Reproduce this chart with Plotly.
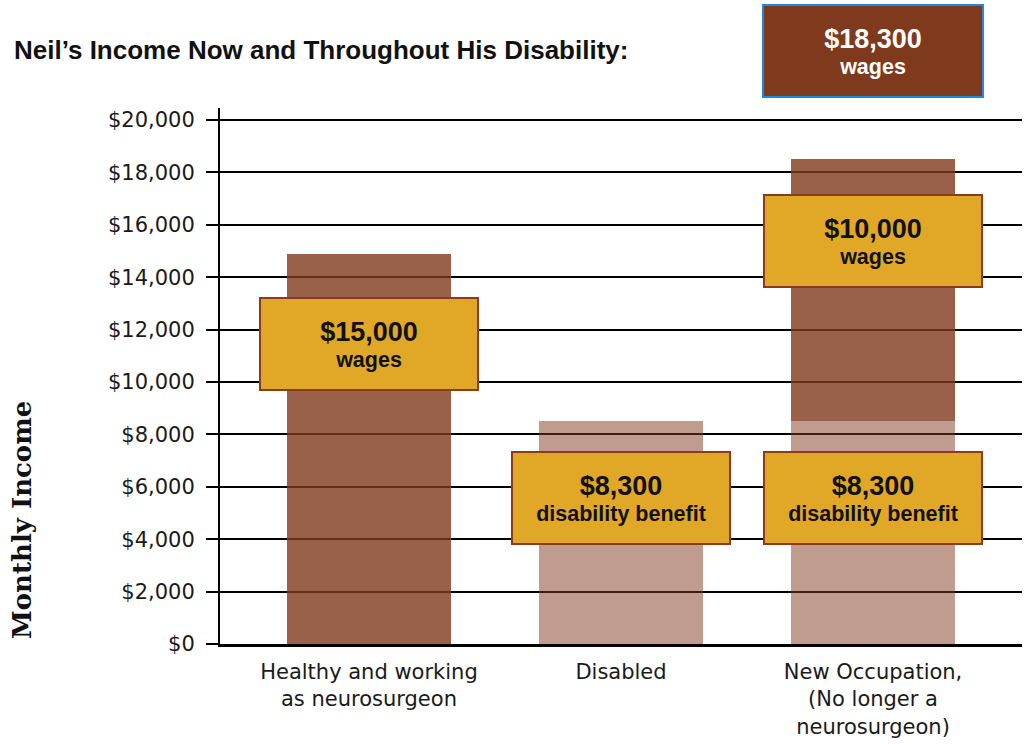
import plotly.graph_objects as go

# ---- data ----
categories = ["Healthy and working<br>as neurosurgeon", "Disabled",
              "New Occupation,<br>(No longer a<br>neurosurgeon)"]
disability_benefit = [None, 8500, 8500]   # drawn bar heights
wages = [14900, None, 10000]              # drawn bar heights (stacked on benefit)

box_amounts = [15000, 8300, 8300, 10000]
box_captions = ["wages", "disability benefit", "disability benefit", "wages"]
box_category = [0, 1, 2, 2]
box_y = [11450, 5590, 5590, 15395]

top_amount = 18300
top_caption = "wages"

y_ticks = [0, 2000, 4000, 6000, 8000, 10000, 12000, 14000, 16000, 18000, 20000]
y_tick_labels = ["$" + f"{v:,}" for v in y_ticks]

title_text = "Neil’s Income Now and Throughout His Disability:"
y_title = "Monthly Income"

# ---- styles ----
BROWN = (127, 57, 28)
dark_bar = "rgba(%d,%d,%d,0.8)" % BROWN
light_bar = "rgba(%d,%d,%d,0.5)" % BROWN
GOLD = "#E0A826"
GOLD_BORDER = "#8B3A1A"
AX_FONT = "DejaVu Sans"
BOX_FONT = "Liberation Sans, Arial, sans-serif"

fig = go.Figure()
fig.add_trace(go.Bar(x=categories, y=disability_benefit, marker=dict(color=light_bar, line=dict(width=0)),
                     width=0.651, name="Disability benefit"))
fig.add_trace(go.Bar(x=categories, y=wages, marker=dict(color=dark_bar, line=dict(width=0)),
                     width=0.651, name="Wages"))

def box_text(amount, caption):
    return ("<span style='font-size:27px'><b>$%s</b></span><br>"
            "<span style='font-size:21.5px'><b>%s</b></span>" % (f"{amount:,}", caption))

annotations = []
for amt, cap, ci, yv in zip(box_amounts, box_captions, box_category, box_y):
    annotations.append(dict(
        x=categories[ci], y=yv, xref="x", yref="y", text=box_text(amt, cap),
        showarrow=False, width=216, height=90, bgcolor=GOLD, bordercolor=GOLD_BORDER,
        borderwidth=2, borderpad=0, align="center", valign="middle",
        xanchor="center", yanchor="middle",
        font=dict(family=BOX_FONT, size=20, color="#111111")))

annotations.append(dict(
    x=categories[2], y=1.1063, xref="x", yref="paper", text=box_text(top_amount, top_caption),
    showarrow=False, width=218, height=90, bgcolor="#7F391C", bordercolor="#1E88E5",
    borderwidth=2, borderpad=0, align="center", valign="middle",
    xanchor="center", yanchor="middle",
    font=dict(family=BOX_FONT, size=20, color="white")))

annotations.append(dict(
    x=-0.2469, y=0.2313, xref="paper", yref="paper", text="<b>%s</b>" % y_title,
    textangle=-90, showarrow=False, xanchor="center", yanchor="middle",
    font=dict(family="DejaVu Serif", size=26, color="#111111")))

fig.update_layout(
    width=1027, height=745,
    margin=dict(l=220, r=5, t=108, b=101, pad=0),
    paper_bgcolor="white", plot_bgcolor="white",
    barmode="stack", showlegend=False,
    title=dict(text="<b>%s</b>" % title_text, x=14 / 1027, xanchor="left",
               y=1 - 50 / 745, yanchor="middle", xref="container", yref="container",
               font=dict(family=BOX_FONT, size=26, color="#111111")),
    annotations=annotations,
    xaxis=dict(type="category", range=[-0.591, 2.591], showgrid=False, ticks="",
               showline=True, linecolor="black", linewidth=2.5, layer="below traces",
               tickfont=dict(family=AX_FONT, size=21, color="#1a1a1a"),
               ticklabelstandoff=7, zeroline=False),
    yaxis=dict(range=[0, 20458], tickmode="array", tickvals=y_ticks, ticktext=y_tick_labels,
               showgrid=True, gridcolor="black", gridwidth=2,
               showline=True, linecolor="black", linewidth=2,
               ticks="outside", ticklen=12, tickwidth=2, tickcolor="black",
               tickfont=dict(family=AX_FONT, size=21, color="#1a1a1a"),
               ticklabelstandoff=7, zeroline=False, layer="below traces"),
)

fig.write_html("out.html")
